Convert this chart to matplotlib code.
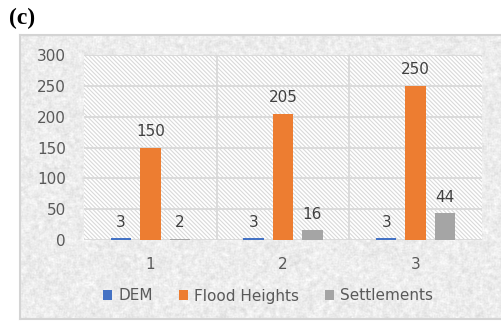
import numpy as np
import matplotlib.pyplot as plt
from matplotlib.patches import Rectangle

# Значения по трём сценариям
categories = ["1", "2", "3"]
dem = [3, 3, 3]
flood_heights = [150, 205, 250]
settlements = [2, 16, 44]

series = [("DEM", dem, "#4472C4"),
          ("Flood Heights", flood_heights, "#ED7D31"),
          ("Settlements", settlements, "#A5A5A5")]

plt.rcParams['font.family'] = ['DejaVu Sans']
plt.rcParams['hatch.linewidth'] = 0.8

W, H = 502, 321
fig = plt.figure(figsize=(W / 100, H / 100), dpi=100)

# Фон области диаграммы: светло-серая "гранитная" текстура
def blur(a, k):
    ker = np.ones(k) / k
    a = np.apply_along_axis(lambda r: np.convolve(r, ker, mode="same"), 1, a)
    a = np.apply_along_axis(lambda c: np.convolve(c, ker, mode="same"), 0, a)
    return a

rng = np.random.default_rng(3)
th, tw = 284, 482
fine = blur(rng.random((th + 8, tw + 8)), 2)[4:-4, 4:-4]
coarse = blur(rng.random((th + 12, tw + 12)), 4)[6:-6, 6:-6]
tex = 0.925 + 0.08 * (fine - 0.5) + 0.22 * (coarse - 0.5)

bg = fig.add_axes([20 / W, 2 / H, 482 / W, 284 / H])
bg.imshow(tex, cmap="gray", vmin=0, vmax=1, aspect="auto", interpolation="bilinear")
bg.set_xticks([])
bg.set_yticks([])
for s in bg.spines.values():
    s.set_color("#d4d4d4")
    s.set_linewidth(1.5)

ax = fig.add_axes([84 / W, 1 - 240 / H, 398 / W, 185 / H])
ax.add_patch(Rectangle((0, 0), 1, 1, transform=ax.transAxes, facecolor="white",
                       edgecolor="#d9d9d9", hatch="\\" * 8, lw=0, zorder=0))
ax.patch.set_visible(False)

x = np.arange(len(categories))
width = 0.155
offsets = [-0.222, 0, 0.222]
for (name, vals, color), off in zip(series, offsets):
    bars = ax.bar(x + off, vals, width, color=color, label=name, zorder=3)
    for b, v in zip(bars, vals):
        ax.annotate(str(v), (b.get_x() + b.get_width() / 2, v),
                    xytext=(0, 6), textcoords="offset points",
                    ha="center", va="bottom", fontsize=11, color="#404040")

ax.set_xlim(-0.5, 2.5)
ax.set_ylim(0, 300)
ax.set_yticks(range(0, 301, 50))
ax.set_xticks(x, categories)
ax.yaxis.grid(True, color="#d9d9d9", lw=1.3, zorder=1)
for xv in [0.5, 1.5]:
    ax.axvline(xv, color="#d9d9d9", lw=1.3, zorder=1)
ax.set_axisbelow(True)
for s in ax.spines.values():
    s.set_visible(False)
ax.tick_params(length=0, labelsize=11, labelcolor="#595959")
ax.tick_params(axis="y", pad=13)
ax.tick_params(axis="x", pad=12)

fig.legend(loc="center", bbox_to_anchor=(268 / W, 1 - 296 / H), ncol=3,
           frameon=False, fontsize=11, labelcolor="#595959",
           handlelength=0.6, handleheight=0.6, handletextpad=0.4,
           columnspacing=1.7)

fig.text(9 / W, 1 - 18 / H, "(c)", family="Liberation Serif",
         fontweight="bold", fontsize=17, va="center", ha="left")

fig.savefig("out.png", dpi=100)
